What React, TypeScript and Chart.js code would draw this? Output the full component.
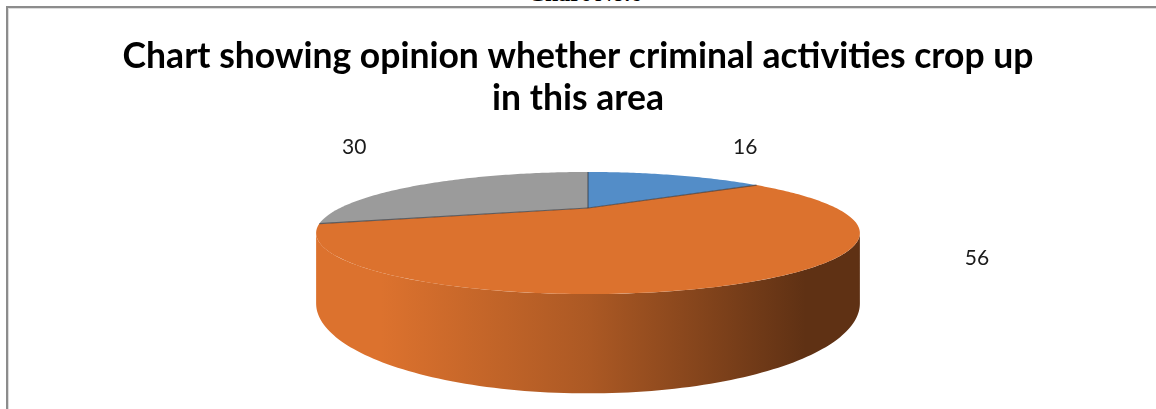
import React, { useEffect, useRef } from 'react';
import { Chart, registerables } from 'chart.js';

Chart.register(...registerables);

// ---- data ----
const categories = ['Category 1', 'Category 2', 'Category 3'];
const values = [16, 56, 30];
const sliceColors = ['#538DC8', '#DC722E', '#9B9B9B'];
const titleLines = ['Chart showing opinion whether criminal activities crop up', 'in this area'];
const captionText = 'Chart No.6';

// ---- projection / layout constants ----
const PROJ = { cx: 588, cy: 208, rx: 248, k: 50.8, d: 2.44, h: 58.6 };
const TITLE_WIDTH = 912;

function project(phi: number, r = 1) {
  const X = r * Math.sin(phi);
  const Z = r * Math.cos(phi);
  const s = PROJ.d / (PROJ.d + Z);
  return { x: PROJ.cx + PROJ.rx * X * s, y: PROJ.cy - PROJ.k * Z * s, s, z: Z };
}

function hexToRgb(hex: string) {
  const v = parseInt(hex.slice(1), 16);
  return [(v >> 16) & 255, (v >> 8) & 255, v & 255];
}
function mix(rgb: number[], f: number) {
  return `rgb(${Math.round(rgb[0] * f)},${Math.round(rgb[1] * f)},${Math.round(rgb[2] * f)})`;
}

function silhouette() {
  let best = 0;
  let phiR = Math.PI / 2;
  for (let i = 0; i <= 2000; i++) {
    const phi = Math.PI / 2 + (Math.PI / 2) * (i / 2000);
    const p = project(phi);
    if (p.x > best) {
      best = p.x;
      phiR = phi;
    }
  }
  return { phiR, phiL: 2 * Math.PI - phiR };
}

const pie3d = {
  id: 'pie3d',
  beforeDatasetsDraw(chart: any) {
    const ctx = chart.ctx as CanvasRenderingContext2D;
    const meta = chart.getDatasetMeta(0);
    const arcs = meta.data as any[];
    const data = chart.data.datasets[0].data as number[];
    const { phiR, phiL } = silhouette();
    const N = 120;
    const leftX = project(phiL).x;
    const rightX = project(phiR).x;

    ctx.save();
    // side walls
    arcs.forEach((arc) => {
      const props = arc.getProps(['startAngle', 'endAngle'], true);
      const a0 = props.startAngle + Math.PI / 2;
      const a1 = props.endAngle + Math.PI / 2;
      const lo = Math.max(a0, phiR);
      const hi = Math.min(a1, phiL);
      if (hi <= lo) return;
      const rgb = hexToRgb(arc.options.backgroundColor);
      const g = ctx.createLinearGradient(leftX, 0, rightX, 0);
      g.addColorStop(0, mix(rgb, 1));
      g.addColorStop(0.12, mix(rgb, 1));
      g.addColorStop(0.5, mix(rgb, 0.78));
      g.addColorStop(0.9, mix(rgb, 0.43));
      g.addColorStop(1, mix(rgb, 0.43));
      ctx.beginPath();
      for (let i = 0; i <= N; i++) {
        const p = project(lo + (hi - lo) * (i / N));
        if (i === 0) ctx.moveTo(p.x, p.y);
        else ctx.lineTo(p.x, p.y);
      }
      for (let i = N; i >= 0; i--) {
        const p = project(lo + (hi - lo) * (i / N));
        ctx.lineTo(p.x, p.y + PROJ.h * p.s);
      }
      ctx.closePath();
      ctx.fillStyle = g;
      ctx.fill();
    });

    // top faces
    arcs.forEach((arc) => {
      const props = arc.getProps(['startAngle', 'endAngle'], true);
      const a0 = props.startAngle + Math.PI / 2;
      const a1 = props.endAngle + Math.PI / 2;
      const steps = Math.max(8, Math.ceil(((a1 - a0) / (2 * Math.PI)) * 360));
      ctx.beginPath();
      ctx.moveTo(PROJ.cx, PROJ.cy);
      for (let i = 0; i <= steps; i++) {
        const p = project(a0 + (a1 - a0) * (i / steps));
        ctx.lineTo(p.x, p.y);
      }
      ctx.closePath();
      ctx.fillStyle = arc.options.backgroundColor;
      ctx.fill();
    });

    // radial edges
    ctx.strokeStyle = 'rgba(45,50,60,0.65)';
    ctx.lineWidth = 1.2;
    arcs.forEach((arc) => {
      const props = arc.getProps(['startAngle'], true);
      const p = project(props.startAngle + Math.PI / 2);
      ctx.beginPath();
      ctx.moveTo(PROJ.cx, PROJ.cy);
      ctx.lineTo(p.x, p.y);
      ctx.stroke();
    });

    // data labels
    const topY = project(0).y;
    ctx.fillStyle = '#1a1a1a';
    ctx.font = '21px Lato';
    ctx.textAlign = 'center';
    ctx.textBaseline = 'middle';
    arcs.forEach((arc, i) => {
      const props = arc.getProps(['startAngle', 'endAngle'], true);
      const mid = (props.startAngle + props.endAngle) / 2 + Math.PI / 2;
      const p = project(mid);
      let lx: number;
      let ly: number;
      if (p.z > 0) {
        const dx = p.x - PROJ.cx;
        const dy = p.y - PROJ.cy;
        const len = Math.hypot(dx, dy) || 1;
        lx = p.x + (dx / len) * 76;
        ly = topY - 25;
      } else {
        const side = Math.sin(mid) >= 0 ? 1 : -1;
        const edge = side > 0 ? project(phiR) : project(phiL);
        lx = edge.x + side * 117;
        ly = edge.y + (PROJ.h * edge.s) / 2 - 10;
      }
      ctx.fillText(String(data[i]), lx, ly);
    });
    ctx.restore();
    return false;
  },
};

export default function App() {
  const ref = useRef<HTMLCanvasElement | null>(null);

  useEffect(() => {
    const canvas = ref.current;
    if (!canvas) return;
    const m = document.createElement('canvas').getContext('2d') as CanvasRenderingContext2D;
    m.font = 'bold 100px Lato';
    const w = m.measureText(titleLines[0]).width;
    const titleSize = Math.round(((100 * TITLE_WIDTH) / w) * 10) / 10;
    const padTop = Math.round(68 - 0.33 * titleSize - 0.6 * titleSize);

    const chart = new Chart(canvas, {
      type: 'pie',
      data: {
        labels: categories,
        datasets: [
          {
            data: values,
            backgroundColor: sliceColors,
            borderWidth: 0,
          },
        ],
      },
      options: {
        responsive: false,
        animation: false,
        layout: { padding: { bottom: 20 } },
        plugins: {
          legend: { display: false },
          tooltip: { enabled: false },
          title: {
            display: true,
            text: titleLines,
            color: '#000',
            font: { family: 'Lato', weight: 'bold', size: titleSize, lineHeight: 1.2 },
            padding: { top: padTop, bottom: 10 },
          },
        },
      },
      plugins: [pie3d],
    } as any);
    return () => chart.destroy();
  }, []);

  return (
    <div
      style={{
        position: 'fixed',
        left: 0,
        top: 0,
        width: 1156,
        height: 409,
        overflow: 'hidden',
        background: '#fff',
      }}
    >
      <div
        style={{
          position: 'absolute',
          left: 0,
          width: 1170,
          top: -19,
          textAlign: 'center',
          font: 'bold 24px "Liberation Serif", "Times New Roman", serif',
          lineHeight: '24px',
          color: '#000',
        }}
      >
        {captionText}
      </div>
      <div
        style={{
          position: 'absolute',
          left: 6,
          top: 6,
          width: 1300,
          height: 600,
          borderTop: '2px solid #8c8c8c',
          borderLeft: '2px solid #8c8c8c',
          boxShadow: 'inset 1px 1px 0 #dcdcdc',
        }}
      />
      <canvas
        ref={ref}
        width={1156}
        height={409}
        style={{ position: 'absolute', left: 0, top: 0, width: 1156, height: 409 }}
      />
    </div>
  );
}
